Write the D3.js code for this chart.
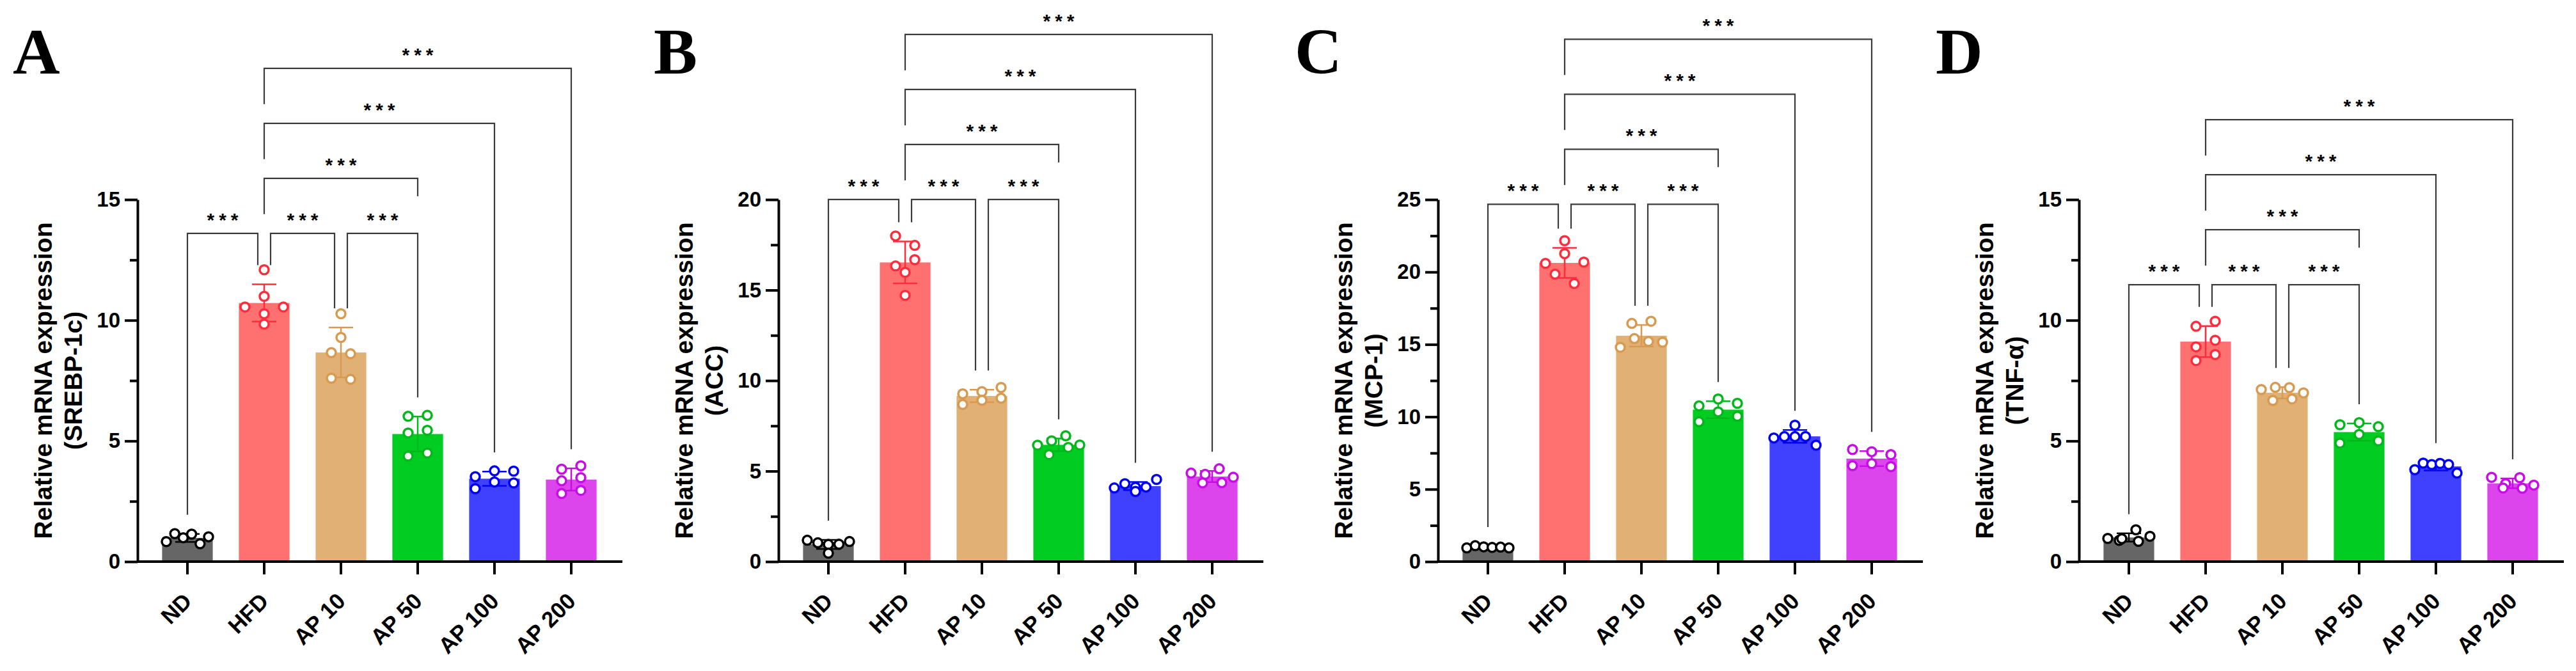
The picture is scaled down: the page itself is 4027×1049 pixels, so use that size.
<!DOCTYPE html>
<html>
<head>
<meta charset="utf-8">
<script src="https://cdn.jsdelivr.net/npm/d3@7"></script>
<style>
  body { margin: 0; background: #fff; }
  text { font-family: "Liberation Sans", Arial, sans-serif; font-weight: bold; }
</style>
</head>
<body>
<div id="chart"></div>
<script>
// groups and panels
var groups = ["ND", "HFD", "AP 10", "AP 50", "AP 100", "AP 200"];
var genes = ["SREBP-1c", "ACC", "MCP-1", "TNF-\u03b1"];
var letters = ["A", "B", "C", "D"];
var yMax = [15, 20, 25, 15];

// individual points per group
var srebpValues = [
  [0.83, 1.16, 0.99, 1.14, 0.74, 1.03],
  [12.09, 10.99, 10.55, 10.27, 10.55, 9.84],
  [10.27, 9.29, 8.66, 8.61, 7.6, 7.55],
  [6.02, 6.06, 5.33, 5.44, 4.37, 4.5],
  [3.52, 3.76, 3.75, 3.02, 3.3, 3.26],
  [3.83, 3.97, 3.35, 3.48, 2.82, 2.95]
];
var accValues = [
  [1.18, 1.04, 0.95, 0.96, 1.11, 0.47],
  [17.99, 17.47, 16.33, 16.68, 15.98, 14.71],
  [9.27, 9.39, 9.62, 8.68, 8.91, 9.03],
  [6.43, 6.67, 6.95, 6.44, 5.91, 6.31],
  [4.07, 4.3, 4.11, 4.12, 4.54, 3.88],
  [4.89, 4.82, 5.13, 4.66, 4.35, 4.36]
];
var mcpValues = [
  [0.95, 1.1, 1.02, 0.98, 1.0, 0.95],
  [22.16, 20.59, 21.27, 20.68, 19.85, 19.2],
  [16.45, 16.6, 14.8, 15.4, 15.2, 15.15],
  [10.75, 11.23, 10.93, 9.66, 10.34, 10.04],
  [9.42, 8.54, 8.63, 8.63, 8.64, 8.04],
  [7.74, 7.59, 7.39, 6.62, 6.77, 6.56]
];
var tnfValues = [
  [0.88, 0.96, 0.95, 1.32, 1.05, 0.84],
  [9.75, 9.96, 8.9, 9.17, 8.33, 8.58],
  [7.13, 7.22, 7.21, 6.99, 6.68, 6.74],
  [5.67, 5.76, 5.59, 4.91, 5.27, 5.0],
  [3.81, 4.08, 4.02, 4.07, 4.02, 3.67],
  [3.49, 3.23, 3.48, 3.17, 3.05, 3.04]
];
var panelValues = [srebpValues, accValues, mcpValues, tnfValues];

// significance comparisons: [from, to, stacking level]
var comparisons = [
  ["ND", "HFD", 0],
  ["HFD", "AP 10", 0],
  ["AP 10", "AP 50", 0],
  ["HFD", "AP 50", 1],
  ["HFD", "AP 100", 2],
  ["HFD", "AP 200", 3]
];
var sigText = "***";

var barColors = ["#666666", "#FF7070", "#E0B074", "#00CC22", "#4040FF", "#DC44EC"];
var dotColors = ["#000000", "#FF2D3C", "#D89A50", "#00B81A", "#0000F5", "#C80CE8"];

var W = 4027, H = 1049;
var axisX = [215, 1217, 2248, 3250];
var letterX = [20, 1022, 2024, 3026];
var yBottom = 878, yTop = 312;
var rowGap = 86;
var starGap = 7;

var svg = d3.select("#chart").append("svg")
  .attr("width", W)
  .attr("height", H)
  .style("display", "block");

svg.append("rect").attr("width", W).attr("height", H).attr("fill", "#fff");

// spread points that sit at about the same height
function spread(vals, y) {
  var order = vals.map(function (v, i) { return i; })
    .sort(function (a, b) { return vals[b] - vals[a]; });
  var rows = [], cur = null;
  order.forEach(function (i) {
    if (!cur || y(vals[i]) - y(vals[cur[0]]) > 16) {
      cur = [i];
      rows.push(cur);
    } else {
      cur.push(i);
    }
  });
  var off = vals.map(function () { return 0; });
  rows.forEach(function (r) {
    r.sort(function (a, b) { return a - b; });
    var n = r.length;
    if (n > 1) {
      var s = Math.min(30, 66 / (n - 1));
      r.forEach(function (i, k) { off[i] = (k - (n - 1) / 2) * s; });
    }
  });
  return off;
}

panelValues.forEach(function (values, p) {
  var ax = axisX[p];
  var g = svg.append("g");

  var x = d3.scaleBand()
    .domain(groups)
    .range([ax + 18, ax + 738])
    .paddingInner(0.34)
    .paddingOuter(0.17);
  var y = d3.scaleLinear()
    .domain([0, yMax[p]])
    .range([yBottom, yTop]);
  var cx = function (name) { return x(name) + x.bandwidth() / 2; };

  var stats = values.map(function (v) {
    return { mean: d3.mean(v), sd: d3.deviation(v) };
  });

  // bars
  g.selectAll(".bar")
    .data(groups)
    .enter().append("rect")
    .attr("x", function (d) { return x(d); })
    .attr("y", function (d, i) { return y(stats[i].mean); })
    .attr("width", x.bandwidth())
    .attr("height", function (d, i) { return yBottom - y(stats[i].mean); })
    .attr("fill", function (d, i) { return barColors[i]; });

  // error bars (mean +/- SD)
  groups.forEach(function (name, i) {
    var c = cx(name), hi = y(stats[i].mean + stats[i].sd), lo = y(stats[i].mean - stats[i].sd);
    g.append("path")
      .attr("d", "M" + c + "," + lo + "V" + hi +
        "M" + (c - 19) + "," + hi + "H" + (c + 19) +
        "M" + (c - 19) + "," + lo + "H" + (c + 19))
      .attr("stroke", dotColors[i])
      .attr("stroke-width", 2.5)
      .attr("fill", "none");
  });

  // points
  groups.forEach(function (name, i) {
    var off = spread(values[i], y);
    g.selectAll(null)
      .data(values[i])
      .enter().append("circle")
      .attr("cx", function (d, k) { return cx(name) + off[k]; })
      .attr("cy", function (d) { return y(d); })
      .attr("r", 7)
      .attr("fill", "#fff")
      .attr("stroke", dotColors[i])
      .attr("stroke-width", 3.5);
  });

  // y axis
  var major = d3.range(0, yMax[p] + 0.1, 5);
  var minor = d3.range(2.5, yMax[p], 5);
  var yAxis = g.append("g")
    .attr("transform", "translate(" + ax + ",0)")
    .call(d3.axisLeft(y).tickValues(major).tickSize(20).tickSizeOuter(0).tickPadding(7));
  yAxis.selectAll("text").attr("font-size", 33).attr("fill", "#000");
  g.append("g")
    .attr("transform", "translate(" + ax + ",0)")
    .call(d3.axisLeft(y).tickValues(minor).tickSize(12).tickFormat(""))
    .select(".domain").remove();
  g.selectAll(".tick line").attr("stroke", "#000").attr("stroke-width", 4);
  yAxis.select(".domain").attr("stroke", "#000").attr("stroke-width", 4);

  // x axis
  var xAxis = g.append("g")
    .attr("transform", "translate(0," + yBottom + ")")
    .call(d3.axisBottom(x).tickSize(20).tickSizeOuter(0));
  xAxis.select(".domain").remove();
  xAxis.selectAll(".tick line").attr("stroke", "#000").attr("stroke-width", 4);
  xAxis.selectAll("text")
    .attr("font-size", 35)
    .attr("fill", "#000")
    .attr("x", 0).attr("y", 0).attr("dy", 0)
    .attr("text-anchor", "end")
    .attr("transform", "translate(9,64) rotate(-45)");
  g.append("line")
    .attr("x1", ax).attr("x2", ax + 758)
    .attr("y1", yBottom).attr("y2", yBottom)
    .attr("stroke", "#000").attr("stroke-width", 4);

  // y title
  var midY = (yBottom + yTop) / 2;
  g.append("text")
    .attr("transform", "translate(" + (ax - 134) + "," + midY + ") rotate(-90)")
    .attr("text-anchor", "middle")
    .attr("font-size", 39)
    .text("Relative mRNA expression");
  g.append("text")
    .attr("transform", "translate(" + (ax - 87) + "," + midY + ") rotate(-90)")
    .attr("text-anchor", "middle")
    .attr("font-size", 39)
    .text("(" + genes[p] + ")");

  // panel letter
  svg.append("text")
    .attr("x", letterX[p]).attr("y", 115)
    .style("font-family", "'Liberation Serif', 'Times New Roman', serif")
    .style("font-weight", "bold")
    .attr("font-size", 102)
    .text(letters[p]);

  // significance brackets
  var topPoint = d3.max(values, function (v) { return d3.max(v); });
  var lowRow = y(topPoint) - 57;
  var errTop = function (name) {
    var s = stats[groups.indexOf(name)];
    return y(s.mean + s.sd);
  };
  comparisons.forEach(function (c) {
    var a = c[0], b = c[1], lvl = c[2];
    var row = lowRow - lvl * rowGap;
    var x1 = cx(a), x2 = cx(b);
    var sameRow = comparisons.filter(function (o) { return o[2] === lvl && o !== c; });
    if (sameRow.some(function (o) { return o[1] === a; })) x1 += 10;
    if (sameRow.some(function (o) { return o[0] === b; })) x2 -= 10;
    var below = comparisons.filter(function (o) { return o[2] < lvl; });
    var hasBelow = function (n) { return below.some(function (o) { return o[0] === n || o[1] === n; }); };
    var leg1 = hasBelow(a) ? row + rowGap - 30 : errTop(a) - 30;
    var leg2 = hasBelow(b) ? row + 28 : errTop(b) - 30;
    g.append("path")
      .attr("d", "M" + x1 + "," + leg1 + "V" + row + "H" + x2 + "V" + leg2)
      .attr("fill", "none")
      .attr("stroke", "#3a3a3a")
      .attr("stroke-width", 2.2);
    g.append("text")
      .attr("x", (x1 + x2) / 2 + starGap / 2)
      .attr("y", row - 11)
      .attr("text-anchor", "middle")
      .attr("font-size", 30)
      .attr("letter-spacing", starGap)
      .text(sigText);
  });
});
</script>
</body>
</html>
